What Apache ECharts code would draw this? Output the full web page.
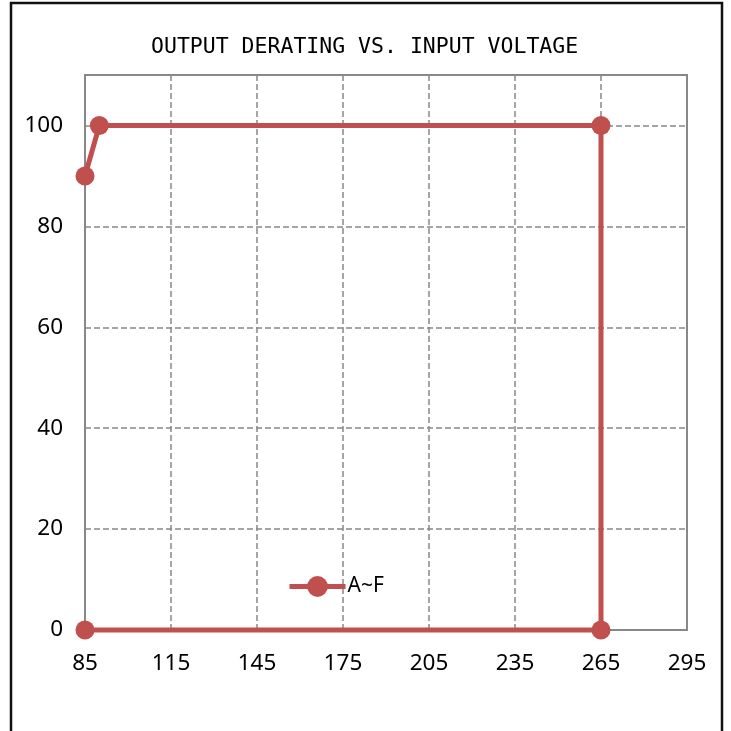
<!DOCTYPE html>
<html>
<head>
<meta charset="utf-8">
<script src="https://cdn.jsdelivr.net/npm/echarts@6/dist/echarts.min.js"></script>
<style>html,body{margin:0;padding:0;background:#fff}#chart{width:731px;height:731px}</style>
</head>
<body>
<div id="chart"></div>
<script>
var chart = echarts.init(document.getElementById('chart'));

// data
var seriesName = 'A~F';
var voltage = [85, 90, 265, 265, 85];   // input voltage
var load = [90, 100, 100, 0, 0];        // output %
var xTicks = [85, 115, 145, 175, 205, 235, 265, 295];
var yTicks = [0, 20, 40, 60, 80, 100];

var RED = '#c0504d';
var GRID = '#888888';
var labelFont = { fontFamily: 'Noto Sans', fontSize: 22.5, color: '#000' };

var option = {
    backgroundColor: '#fff',
    animation: false,
    title: {
        text: 'OUTPUT DERATING VS. INPUT VOLTAGE',
        left: 146,
        top: 31,
        textStyle: { fontFamily: 'DejaVu Sans Mono', fontWeight: 'normal', fontSize: 21.5, color: '#000' }
    },
    legend: {
        left: 282,
        top: 571,
        itemWidth: 56,
        itemHeight: 26,
        itemGap: 4,
        lineStyle: { width: 5 },
        textStyle: { fontFamily: 'Noto Sans', fontSize: 21, color: '#000', padding: [0, 0, 0, -3] },
        data: [seriesName]
    },
    grid: {
        left: 85, right: 44, top: 75, bottom: 101,
        show: true, borderColor: GRID, borderWidth: 2
    },
    xAxis: {
        type: 'value', min: 85, max: 295,
        axisLine: { show: true, lineStyle: { color: GRID, width: 2 } },
        axisTick: { show: false, customValues: xTicks },
        axisLabel: Object.assign({ customValues: xTicks, margin: 22 }, labelFont),
        splitLine: { show: true, customValues: xTicks, lineStyle: { color: GRID, type: [6, 3], width: 1.5 } }
    },
    yAxis: {
        type: 'value', min: 0, max: 110,
        axisLine: { show: true, lineStyle: { color: GRID, width: 2 } },
        axisTick: { show: false, customValues: yTicks },
        axisLabel: Object.assign({ customValues: yTicks, margin: 22 }, labelFont),
        splitLine: { show: true, customValues: yTicks, lineStyle: { color: GRID, type: [6, 3], width: 1.5 } }
    },
    graphic: [{
        type: 'polyline',
        shape: { points: [[11, 731], [11, 3], [722, 3], [722, 731]] },
        style: { stroke: '#111', lineWidth: 2.5, fill: null },
        silent: true
    }],
    series: [{
        name: seriesName,
        type: 'line',
        data: voltage.map(function (v, i) { return [v, load[i]]; }),
        symbol: 'circle',
        symbolSize: 19,
        lineStyle: { color: RED, width: 5 },
        itemStyle: { color: RED },
        clip: false
    }]
};
chart.setOption(option);
</script>
</body>
</html>
